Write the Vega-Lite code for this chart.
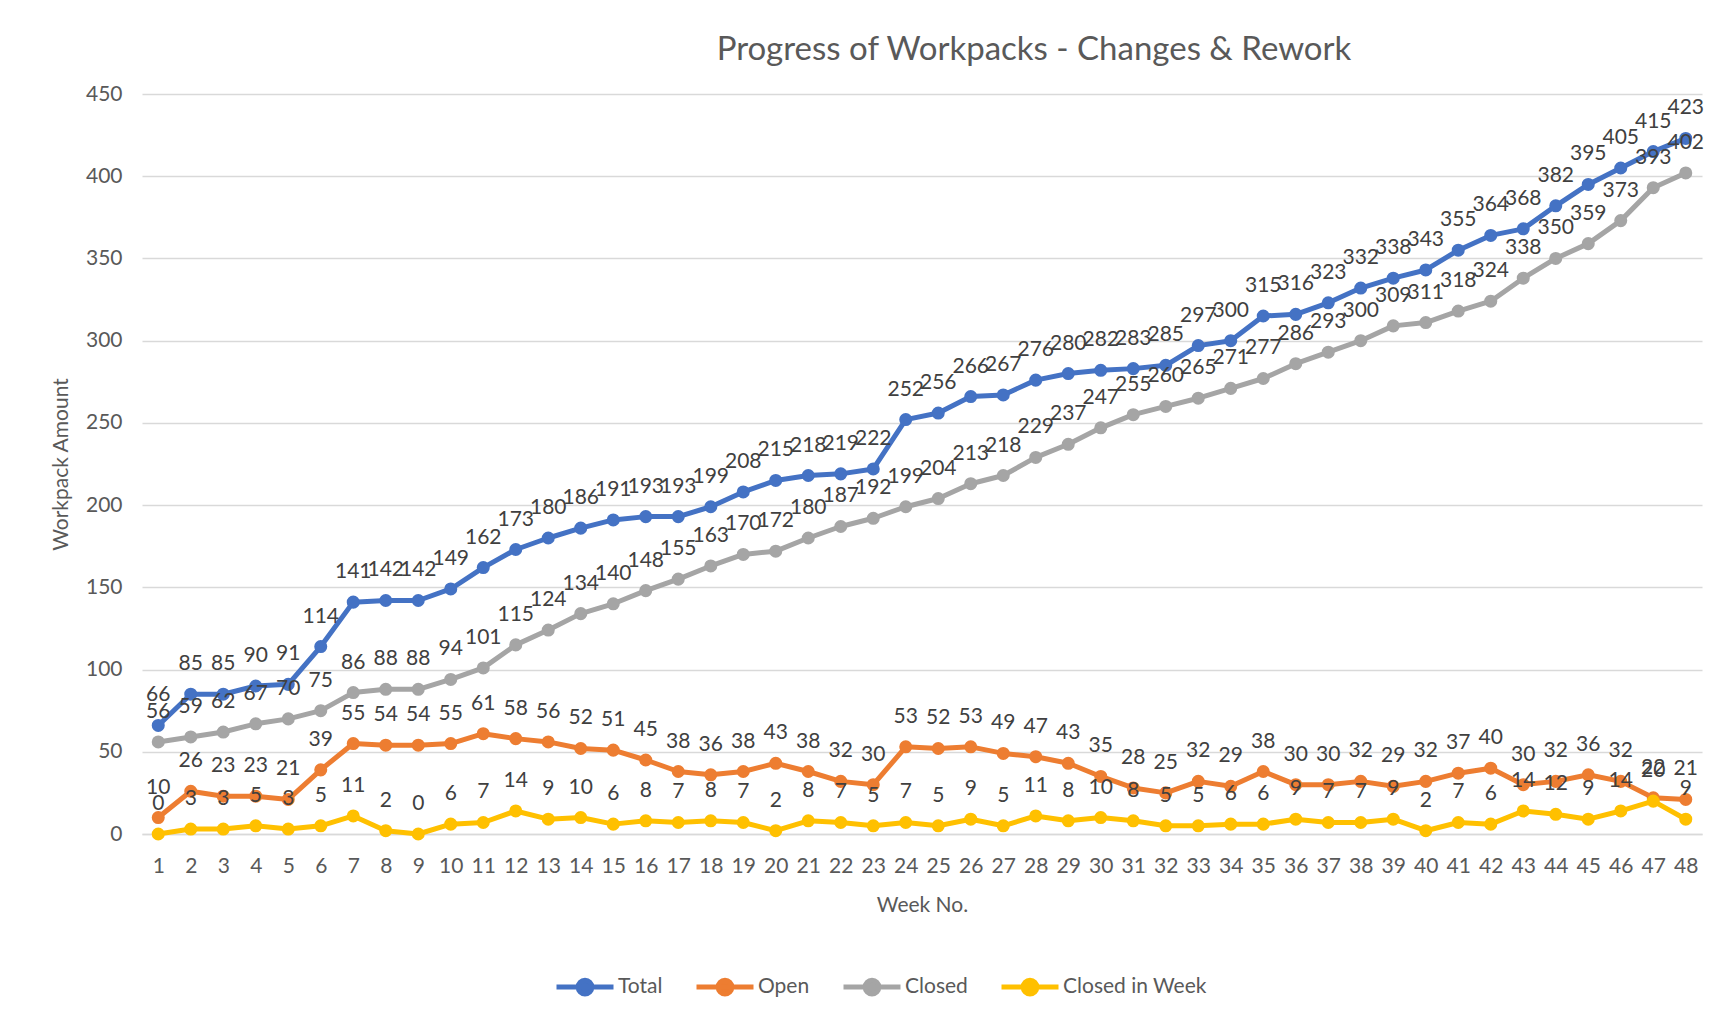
{
  "$schema": "https://vega.github.io/schema/vega-lite/v6.json",
  "width": 1560,
  "height": 740,
  "autosize": {"type": "none"},
  "padding": {"left": 142, "top": 94, "right": 26, "bottom": 188},
  "background": "white",
  "config": {"view": {"stroke": null}, "font": "Lato"},
  "title": {
    "text": "Progress of Workpacks - Changes & Rework",
    "fontSize": 33,
    "fontWeight": "normal",
    "font": "Lato",
    "color": "#595959",
    "anchor": "middle",
    "frame": "group",
    "baseline": "middle",
    "offset": 0,
    "dx": 112
  },
  "data": {
    "values": [
      {"week": 1, "Total": 66, "Open": 10, "Closed": 56, "Closed in Week": 0},
      {"week": 2, "Total": 85, "Open": 26, "Closed": 59, "Closed in Week": 3},
      {"week": 3, "Total": 85, "Open": 23, "Closed": 62, "Closed in Week": 3},
      {"week": 4, "Total": 90, "Open": 23, "Closed": 67, "Closed in Week": 5},
      {"week": 5, "Total": 91, "Open": 21, "Closed": 70, "Closed in Week": 3},
      {"week": 6, "Total": 114, "Open": 39, "Closed": 75, "Closed in Week": 5},
      {"week": 7, "Total": 141, "Open": 55, "Closed": 86, "Closed in Week": 11},
      {"week": 8, "Total": 142, "Open": 54, "Closed": 88, "Closed in Week": 2},
      {"week": 9, "Total": 142, "Open": 54, "Closed": 88, "Closed in Week": 0},
      {"week": 10, "Total": 149, "Open": 55, "Closed": 94, "Closed in Week": 6},
      {"week": 11, "Total": 162, "Open": 61, "Closed": 101, "Closed in Week": 7},
      {"week": 12, "Total": 173, "Open": 58, "Closed": 115, "Closed in Week": 14},
      {"week": 13, "Total": 180, "Open": 56, "Closed": 124, "Closed in Week": 9},
      {"week": 14, "Total": 186, "Open": 52, "Closed": 134, "Closed in Week": 10},
      {"week": 15, "Total": 191, "Open": 51, "Closed": 140, "Closed in Week": 6},
      {"week": 16, "Total": 193, "Open": 45, "Closed": 148, "Closed in Week": 8},
      {"week": 17, "Total": 193, "Open": 38, "Closed": 155, "Closed in Week": 7},
      {"week": 18, "Total": 199, "Open": 36, "Closed": 163, "Closed in Week": 8},
      {"week": 19, "Total": 208, "Open": 38, "Closed": 170, "Closed in Week": 7},
      {"week": 20, "Total": 215, "Open": 43, "Closed": 172, "Closed in Week": 2},
      {"week": 21, "Total": 218, "Open": 38, "Closed": 180, "Closed in Week": 8},
      {"week": 22, "Total": 219, "Open": 32, "Closed": 187, "Closed in Week": 7},
      {"week": 23, "Total": 222, "Open": 30, "Closed": 192, "Closed in Week": 5},
      {"week": 24, "Total": 252, "Open": 53, "Closed": 199, "Closed in Week": 7},
      {"week": 25, "Total": 256, "Open": 52, "Closed": 204, "Closed in Week": 5},
      {"week": 26, "Total": 266, "Open": 53, "Closed": 213, "Closed in Week": 9},
      {"week": 27, "Total": 267, "Open": 49, "Closed": 218, "Closed in Week": 5},
      {"week": 28, "Total": 276, "Open": 47, "Closed": 229, "Closed in Week": 11},
      {"week": 29, "Total": 280, "Open": 43, "Closed": 237, "Closed in Week": 8},
      {"week": 30, "Total": 282, "Open": 35, "Closed": 247, "Closed in Week": 10},
      {"week": 31, "Total": 283, "Open": 28, "Closed": 255, "Closed in Week": 8},
      {"week": 32, "Total": 285, "Open": 25, "Closed": 260, "Closed in Week": 5},
      {"week": 33, "Total": 297, "Open": 32, "Closed": 265, "Closed in Week": 5},
      {"week": 34, "Total": 300, "Open": 29, "Closed": 271, "Closed in Week": 6},
      {"week": 35, "Total": 315, "Open": 38, "Closed": 277, "Closed in Week": 6},
      {"week": 36, "Total": 316, "Open": 30, "Closed": 286, "Closed in Week": 9},
      {"week": 37, "Total": 323, "Open": 30, "Closed": 293, "Closed in Week": 7},
      {"week": 38, "Total": 332, "Open": 32, "Closed": 300, "Closed in Week": 7},
      {"week": 39, "Total": 338, "Open": 29, "Closed": 309, "Closed in Week": 9},
      {"week": 40, "Total": 343, "Open": 32, "Closed": 311, "Closed in Week": 2},
      {"week": 41, "Total": 355, "Open": 37, "Closed": 318, "Closed in Week": 7},
      {"week": 42, "Total": 364, "Open": 40, "Closed": 324, "Closed in Week": 6},
      {"week": 43, "Total": 368, "Open": 30, "Closed": 338, "Closed in Week": 14},
      {"week": 44, "Total": 382, "Open": 32, "Closed": 350, "Closed in Week": 12},
      {"week": 45, "Total": 395, "Open": 36, "Closed": 359, "Closed in Week": 9},
      {"week": 46, "Total": 405, "Open": 32, "Closed": 373, "Closed in Week": 14},
      {"week": 47, "Total": 415, "Open": 22, "Closed": 393, "Closed in Week": 20},
      {"week": 48, "Total": 423, "Open": 21, "Closed": 402, "Closed in Week": 9}
    ]
  },
  "transform": [
    {"fold": ["Total", "Open", "Closed", "Closed in Week"], "as": ["series", "value"]}
  ],
  "encoding": {
    "x": {
      "field": "week",
      "type": "ordinal",
      "title": "Week No.",
      "scale": {"type": "point", "padding": 0.5},
      "axis": {
        "labelAngle": 0,
        "ticks": false,
        "grid": false,
        "domainColor": "#D9D9D9",
        "domainWidth": 1.5,
        "labelFontSize": 21,
        "labelFont": "Lato",
        "labelColor": "#595959",
        "labelPadding": 21,
        "titleFontSize": 21,
        "titleFont": "Lato",
        "titleFontWeight": "normal",
        "titleColor": "#595959",
        "titleX": 780,
        "titleY": 71,
        "titleBaseline": "middle",
        "titleAlign": "center"
      }
    },
    "y": {
      "field": "value",
      "type": "quantitative",
      "title": "Workpack Amount",
      "scale": {"domain": [0, 450], "nice": false},
      "axis": {
        "values": [0, 50, 100, 150, 200, 250, 300, 350, 400, 450],
        "domain": false,
        "ticks": false,
        "gridColor": "#D9D9D9",
        "gridWidth": 1.5,
        "labelFontSize": 21,
        "labelFont": "Lato",
        "labelColor": "#595959",
        "labelPadding": 20,
        "titleFontSize": 21,
        "titleFont": "Lato",
        "titleFontWeight": "normal",
        "titleColor": "#595959",
        "titleX": -81,
        "titleY": 370,
        "titleBaseline": "middle",
        "titleAlign": "center"
      }
    }
  },
  "layer": [
    {
      "mark": {"type": "line", "strokeWidth": 5, "strokeJoin": "round", "strokeCap": "round"},
      "encoding": {
        "stroke": {
          "field": "series",
          "type": "nominal",
          "scale": {
            "domain": ["Total", "Open", "Closed", "Closed in Week"],
            "range": ["#4472C4", "#ED7D31", "#A5A5A5", "#FFC000"]
          },
          "legend": {
            "orient": "none",
            "legendX": 412,
            "legendY": 862,
            "direction": "horizontal",
            "title": null,
            "symbolType": "M-1,0H1M0.24,0A0.24,0.24,0,1,1,-0.24,0A0.24,0.24,0,1,1,0.24,0",
            "symbolSize": 3249,
            "symbolStrokeWidth": 5,
            "labelFontSize": 21,
            "labelFont": "Lato",
            "labelColor": "#595959",
            "labelOffset": 2,
            "columnPadding": 23
          }
        }
      }
    },
    {
      "mark": {"type": "point", "filled": true, "size": 170, "opacity": 1},
      "encoding": {
        "fill": {
          "field": "series",
          "type": "nominal",
          "scale": {
            "domain": ["Total", "Open", "Closed", "Closed in Week"],
            "range": ["#4472C4", "#ED7D31", "#A5A5A5", "#FFC000"]
          },
          "legend": {
            "orient": "none",
            "legendX": 412,
            "legendY": 862,
            "direction": "horizontal",
            "title": null,
            "symbolType": "M-1,0H1M0.24,0A0.24,0.24,0,1,1,-0.24,0A0.24,0.24,0,1,1,0.24,0",
            "symbolSize": 3249,
            "symbolStrokeWidth": 5,
            "labelFontSize": 21,
            "labelFont": "Lato",
            "labelColor": "#595959",
            "labelOffset": 2,
            "columnPadding": 23
          }
        }
      }
    },
    {
      "mark": {"type": "text", "dy": -30, "fontSize": 21, "font": "Lato", "color": "#404040", "baseline": "middle"},
      "encoding": {
        "text": {"field": "value", "type": "quantitative"},
        "detail": {"field": "series", "type": "nominal"}
      }
    }
  ]
}
